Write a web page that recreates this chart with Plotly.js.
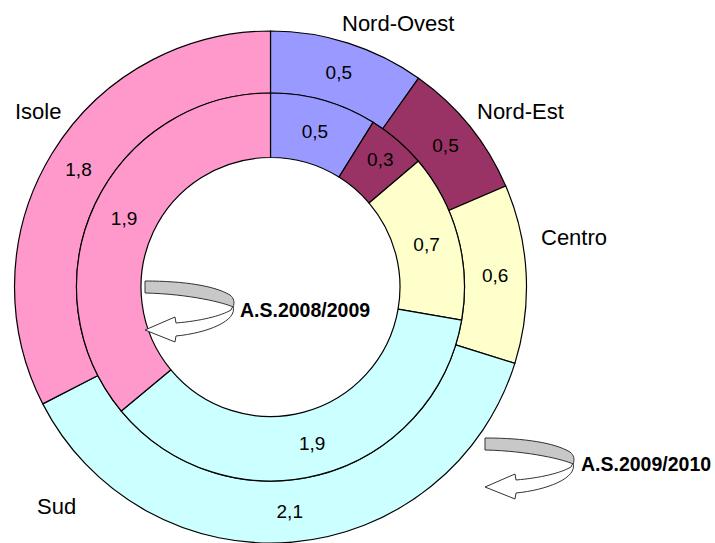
<!DOCTYPE html>
<html>
<head>
<meta charset="utf-8">
<script src="https://cdn.plot.ly/plotly-3.0.1.min.js"></script>
<style>
html, body { margin: 0; padding: 0; background: #ffffff; overflow: hidden; }
#chart { width: 715px; height: 543px; }
</style>
</head>
<body>
<div id="chart"></div>
<script>
// ---- data ----
var regions = ["Nord-Ovest", "Nord-Est", "Centro", "Sud", "Isole"];
var values2009_2010 = [0.54, 0.48, 0.62, 2.07, 1.79];   // outer ring
var values2008_2009 = [0.47, 0.26, 0.74, 1.92, 1.91];   // inner ring
var seriesNames = ["A.S.2009/2010", "A.S.2008/2009"];
var sliceColors = ["#9999FF", "#993366", "#FFFFCC", "#CCFFFF", "#FF99CC"];

// ---- geometry helpers (pixel -> paper) ----
var W = 715, H = 543;
function px(x) { return x / W; }
function py(y) { return 1 - y / H; }

var FONT = "Liberation Sans, Arial, sans-serif";

function pieTrace(vals, name, box, hole) {
  return {
    type: "pie",
    name: name,
    labels: regions,
    values: vals,
    sort: false,
    direction: "clockwise",
    rotation: 0,
    hole: hole,
    domain: { x: [px(box[0]), px(box[2])], y: [py(box[3]), py(box[1])] },
    marker: { colors: sliceColors, line: { color: "#000000", width: 1.2 } },
    texttemplate: "%{value:.1f}",
    textposition: "inside",
    insidetextorientation: "horizontal",
    textfont: { family: FONT, size: 19, color: "#000000" },
    hoverinfo: "none",
    showlegend: false
  };
}

var cx = 270.5, cy = 287;
var rOuter = 256, rMid = 194, rHole = 129.5;

var traces = [
  pieTrace(values2009_2010, seriesNames[0], [cx - rOuter, cy - rOuter, cx + rOuter, cy + rOuter], rMid / rOuter),
  pieTrace(values2008_2009, seriesNames[1], [cx - rMid, cy - rMid, cx + rMid, cy + rMid], rHole / rMid)
];

// ---- curled arrow decorations ----
function pathFrom(ox, oy, cmds) {
  return cmds.map(function (c) {
    if (typeof c === "string") return c;
    return px(ox + c[0]).toFixed(5) + "," + py(oy + c[1]).toFixed(5);
  }).join(" ");
}
function arrowShapes(ox, oy) {
  var band = pathFrom(ox, oy, ["M", [0, 0], "C", [40, 0], [70, 5], [85, 14],
                               "C", [89, 17], [90, 22], [88, 26],
                               "C", [80, 22], [45, 13], [0, 12], "Z"]);
  var head = pathFrom(ox, oy, ["M", [88, 25], "C", [93, 40], [62, 52], [31, 55], "L", [30, 61], "L", [0, 49],
                               "L", [30, 36], "L", [31, 42], "C", [55, 40], [76, 35], [86, 29], "Z"]);
  return [
    { type: "path", xref: "paper", yref: "paper", path: band, fillcolor: "#C8C8C8", line: { color: "#333333", width: 1 } },
    { type: "path", xref: "paper", yref: "paper", path: head, fillcolor: "#FFFFFF", line: { color: "#333333", width: 1 } }
  ];
}
var shapes = arrowShapes(145, 281).concat(arrowShapes(485, 438));

// ---- text labels ----
var labelPos = [[397.5, 23], [520, 111], [573.5, 237], [56, 507], [37.5, 111]];
var annotations = regions.map(function (r, i) {
  return {
    text: r, xref: "paper", yref: "paper", x: px(labelPos[i][0]), y: py(labelPos[i][1]),
    xanchor: "center", yanchor: "middle", showarrow: false,
    font: { family: FONT, size: 22, color: "#000000" }
  };
});
annotations.push({
  text: "<b>" + seriesNames[1] + "</b>", xref: "paper", yref: "paper", x: px(238), y: py(310),
  xanchor: "left", yanchor: "middle", showarrow: false,
  font: { family: FONT, size: 19.5, color: "#000000" }
});
annotations.push({
  text: "<b>" + seriesNames[0] + "</b>", xref: "paper", yref: "paper", x: px(579), y: py(464),
  xanchor: "left", yanchor: "middle", showarrow: false,
  font: { family: FONT, size: 19.5, color: "#000000" }
});

var layout = {
  width: W, height: H,
  margin: { l: 0, r: 0, t: 0, b: 0, pad: 0 },
  paper_bgcolor: "#ffffff",
  plot_bgcolor: "#ffffff",
  separators: ",.",
  showlegend: false,
  font: { family: FONT, color: "#000000" },
  shapes: shapes,
  annotations: annotations
};

Plotly.newPlot("chart", traces, layout, { displayModeBar: false, staticPlot: true });
</script>
</body>
</html>
